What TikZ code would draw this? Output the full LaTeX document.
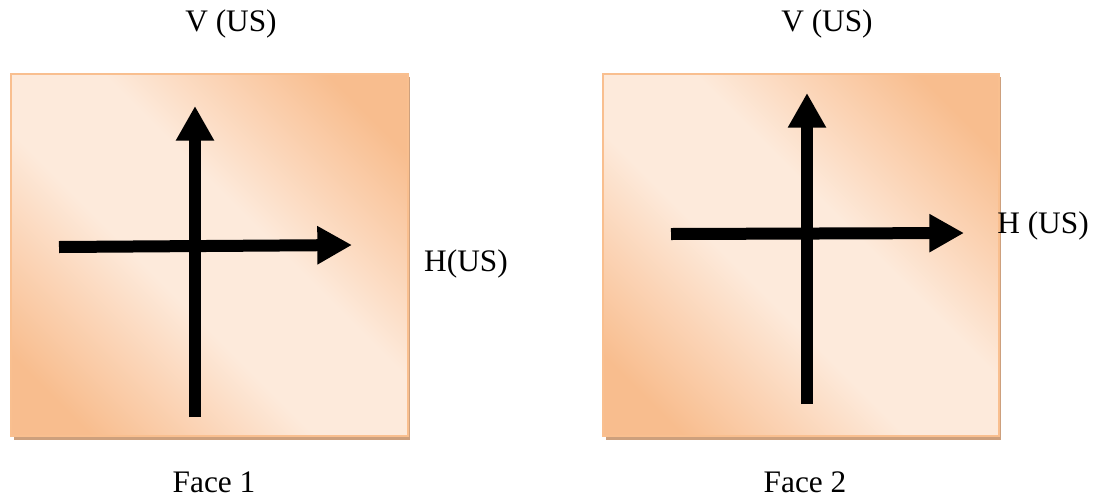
\documentclass[tikz,border=0pt]{standalone}
\usepackage{fontspec}
\setmainfont{Liberation Serif}
\usetikzlibrary{arrows.meta}
\definecolor{peachdark}{RGB}{248,189,142}
\definecolor{peachmid}{RGB}{251,212,182}
\definecolor{peachlight}{RGB}{253,234,219}
\definecolor{peachedge}{RGB}{249,191,143}
\definecolor{shadowtan}{RGB}{205,160,125}
\pgfdeclareverticalshading{peachshade}{100bp}{%
  color(0bp)=(peachdark); color(22bp)=(peachdark); color(33bp)=(peachmid);
  color(43bp)=(peachlight); color(57bp)=(peachlight); color(67bp)=(peachmid);
  color(78bp)=(peachdark); color(100bp)=(peachdark)}
\tikzset{
  face/.style={draw=peachedge, line width=1.5pt, shading=peachshade, shading angle=-45},
  faceshadow/.style={fill=shadowtan, draw=none},
  axis/.style={line width=9pt, -{Triangle[length=26pt,width=27pt]}},
  lbl/.style={font=\fontsize{23.5}{28}\selectfont, inner sep=0pt, text=black}
}
\begin{document}
\begin{tikzpicture}[x=0.75pt, y=-0.75pt]
\useasboundingbox (0,0) rectangle (1100,497);
% face 1
\fill[faceshadow] (14,77) rectangle (410,440);
\shade[face] (11,74) rectangle (408,436);
\node[lbl] (v1) at (231,24) {V (US)};
\node[lbl] (h1) at (466,264) {H(US)};
\node[lbl] (f1) at (214,482) {Face 1};
\coordinate (v1s) at (195,417);
\coordinate (v1e) at (195,106);
\coordinate (h1s) at (59,247);
\coordinate (h1e) at (352,245);
\draw[axis] (v1s) -- (v1e);
\draw[axis] (h1s) -- (h1e);
% face 2
\fill[faceshadow] (606,77) rectangle (1001,440);
\shade[face] (603,74) rectangle (999,436);
\node[lbl] (v2) at (827,24) {V (US)};
\node[lbl] (h2) at (1043,226) {H (US)};
\node[lbl] (f2) at (805,482) {Face 2};
\coordinate (v2s) at (807,404);
\coordinate (v2e) at (807,93);
\coordinate (h2s) at (671,234);
\coordinate (h2e) at (964,233);
\draw[axis] (v2s) -- (v2e);
\draw[axis] (h2s) -- (h2e);
\end{tikzpicture}
\end{document}
